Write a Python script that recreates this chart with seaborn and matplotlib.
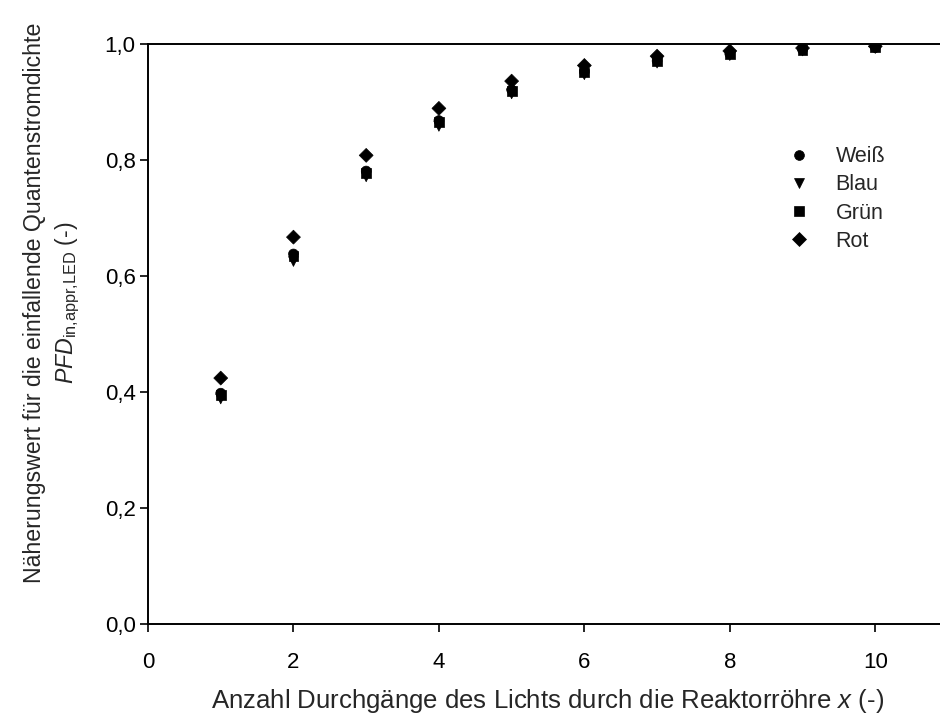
import numpy as np
import pandas as pd
import matplotlib as mpl
import matplotlib.pyplot as plt
import seaborn as sns
from matplotlib.ticker import FuncFormatter

# datos
durchgaenge = [1, 2, 3, 4, 5, 6, 7, 8, 9, 10]
weiss = [0.398, 0.638, 0.781, 0.868, 0.921, 0.952, 0.971, 0.983, 0.990, 0.994]
blau = [0.388, 0.625, 0.771, 0.858, 0.914, 0.947, 0.967, 0.980, 0.988, 0.993]
gruen = [0.395, 0.634, 0.778, 0.866, 0.919, 0.951, 0.970, 0.982, 0.989, 0.994]
rot = [0.424, 0.667, 0.808, 0.889, 0.936, 0.963, 0.979, 0.988, 0.993, 0.996]
farben = ["Weiß", "Blau", "Grün", "Rot"]
marker = {"Weiß": "o", "Blau": "v", "Grün": "s", "Rot": "D"}

df = pd.DataFrame({
    "x": durchgaenge * 4,
    "y": weiss + blau + gruen + rot,
    "LED": sum([[f] * len(durchgaenge) for f in farben], []),
})

# estilo
sns.set_style("ticks")
plt.rcParams['font.family'] = ['Liberation Sans', 'DejaVu Sans']
plt.rcParams['mathtext.fontset'] = 'custom'
plt.rcParams['mathtext.rm'] = 'Liberation Sans'
plt.rcParams['mathtext.it'] = 'Liberation Sans:italic'

fig = plt.figure(figsize=(9.4, 7.16), dpi=100)
ax = fig.add_axes([148 / 940, 92 / 716, 800 / 940, 580 / 716])

sns.scatterplot(data=df, x="x", y="y", hue="LED", style="LED", markers=marker,
                palette=["black"] * 4, s=50, edgecolor="black", linewidth=0.5,
                ax=ax, legend=True)

ax.set_xlim(0, 11)
ax.set_ylim(0, 1.0)
ax.set_xticks([0, 2, 4, 6, 8, 10])
ax.set_yticks([0, 0.2, 0.4, 0.6, 0.8, 1.0])
ax.yaxis.set_major_formatter(FuncFormatter(lambda v, p: f"{v:.1f}".replace(".", ",")))
ax.tick_params(direction="out", length=6, width=1.2, labelsize=16, colors="black", pad=3)
ax.tick_params(axis="x", pad=14)
for s in ax.spines.values():
    s.set_linewidth(1.4)
    s.set_color("black")

ax.set_xlabel("Anzahl Durchgänge des Lichts durch die Reaktorröhre $\\mathit{x}$ (-)",
              fontsize=18.5, labelpad=10)
ax.set_ylabel("Näherungswert für die einfallende Quantenstromdichte\n"
              "$\\mathit{PFD}_{\\mathrm{in{,}appr{,}LED}}$ (-)", fontsize=16.7,
              linespacing=1.4)
ax.yaxis.set_label_coords(-0.082, 0.553)

handles, labels = ax.get_legend_handles_labels()
ax.legend(handles, labels, frameon=False, fontsize=15.5, loc="upper left",
          bbox_to_anchor=(769 / 940, 1 - 127 / 716), bbox_transform=fig.transFigure,
          handletextpad=1.2, labelspacing=0.33, handlelength=1.0)

fig.savefig("out.png", dpi=100)
